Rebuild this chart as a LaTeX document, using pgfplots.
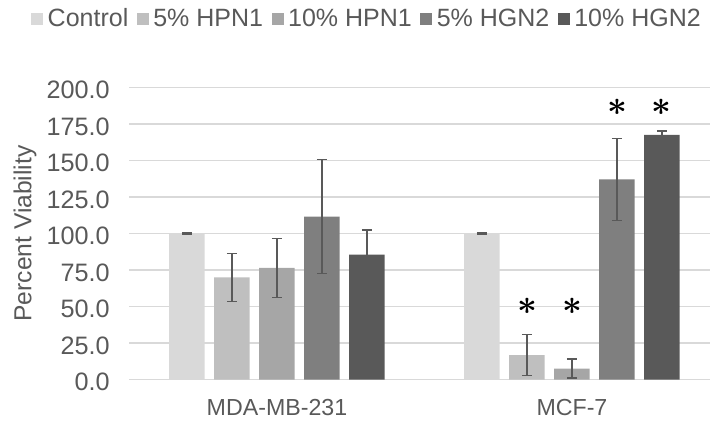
\documentclass[border=0pt]{standalone}
\usepackage{pgfplots}
\pgfplotsset{compat=1.18}
\usepackage{fontspec}
\setmainfont{Liberation Sans}
\definecolor{cA}{HTML}{D9D9D9}
\definecolor{cB}{HTML}{BFBFBF}
\definecolor{cC}{HTML}{A6A6A6}
\definecolor{cD}{HTML}{7F7F7F}
\definecolor{cE}{HTML}{595959}
\definecolor{txt}{HTML}{595959}
\definecolor{grd}{HTML}{D9D9D9}
\begin{document}
\begin{tikzpicture}
\begin{axis}[
  at={(0,0)}, anchor=south west,
  scale only axis, width=290.25pt, height=146pt,
  xmin=-0.5, xmax=1.468, ymin=0, ymax=200,
  ybar=4.75pt, bar width=17.75pt,
  xtick={0,1}, xticklabels={MDA-MB-231, MCF-7},
  ytick={0,25,...,200},
  ymajorgrids, grid style={grd, line width=0.6pt},
  axis line style={draw=none},
  major tick length=0pt,
  /pgf/number format/assume math mode=true,
  yticklabel style={txt, font=\fontsize{12.6}{14}\selectfont, /pgf/number format/fixed, /pgf/number format/fixed zerofill, /pgf/number format/precision=1, xshift=-6.4pt, yshift=-1.2pt},
  xticklabel style={txt, font=\fontsize{11.6}{13}\selectfont, yshift=-6.5pt},
  ylabel={Percent Viability},
  ylabel style={txt, font=\fontsize{12.3}{14}\selectfont, at={(axis description cs:-0.18,0.5)}, anchor=center},
  legend columns=5,
  legend style={at={(0.4075,1.2346)}, anchor=center, draw=none, fill=none,
    font=\fontsize{12.5}{14}\selectfont, text=txt, inner sep=0pt,
    nodes={inner sep=0pt},
    /tikz/every odd column/.append style={column sep=2.2pt},
    /tikz/every even column/.append style={column sep=4.3pt}},
  legend image code/.code={\fill[#1,draw=none] (0pt,-3pt) rectangle (6pt,3pt);},
  error bars/y dir=both, error bars/y explicit,
  error bars/error bar style={color=txt, line width=0.7pt},
  error bars/error mark options={rotate=90, mark size=2.5pt, line width=0.7pt, color=txt},
  clip=false,
]
\addplot[fill=cA, draw=none] coordinates {(0,100) +- (0,0.4) (1,100) +- (0,0.4)};
\addplot[fill=cB, draw=none] coordinates {(0,70.0) +- (0,16.5) (1,16.7) +- (0,14.0)};
\addplot[fill=cC, draw=none] coordinates {(0,76.5) +- (0,20.2) (1,7.5) +- (0,6.5)};
\addplot[fill=cD, draw=none] coordinates {(0,111.5) +- (0,39.0) (1,137.0) +- (0,28.0)};
\addplot[fill=cE, draw=none] coordinates {(0,85.5) +- (0,17.0) (1,167.6) +- (0,2.7)};
\legend{Control, 5\% HPN1, 10\% HPN1, 5\% HGN2, 10\% HGN2}
\node[font=\fontsize{17}{17}\selectfont\boldmath, inner sep=0pt] at (axis cs:0.8475,50.0) {$\ast$};
\node[font=\fontsize{17}{17}\selectfont\boldmath, inner sep=0pt] at (axis cs:1.0,50.0) {$\ast$};
\node[font=\fontsize{17}{17}\selectfont\boldmath, inner sep=0pt] at (axis cs:1.1525,186.6) {$\ast$};
\node[font=\fontsize{17}{17}\selectfont\boldmath, inner sep=0pt] at (axis cs:1.305,186.6) {$\ast$};
\end{axis}
\pgfresetboundingbox
\useasboundingbox (-64.75pt,-21.75pt) rectangle (290.25pt,189.75pt);
\end{tikzpicture}
\end{document}
